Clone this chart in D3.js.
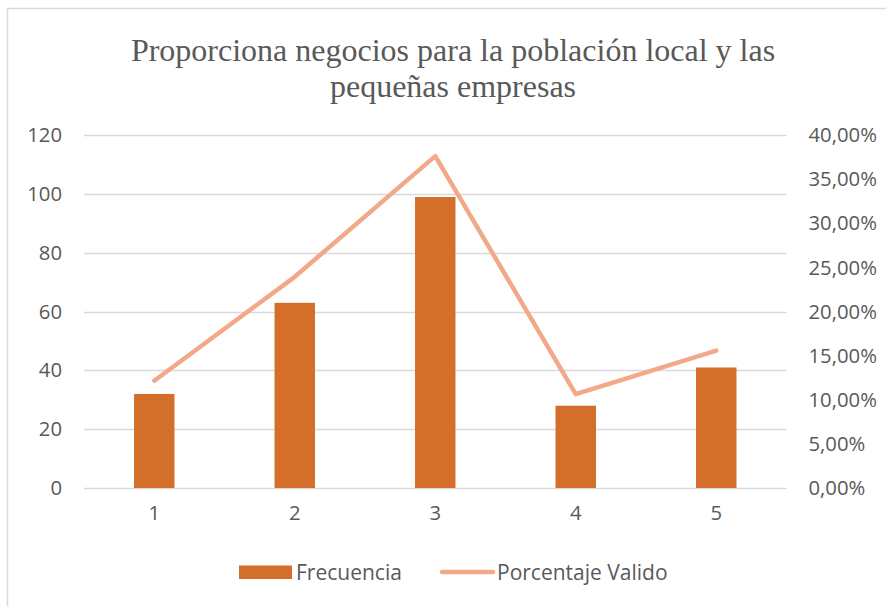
<!DOCTYPE html>
<html>
<head>
<meta charset="utf-8">
<script src="https://cdn.jsdelivr.net/npm/d3@7"></script>
<style>
  html, body { margin: 0; padding: 0; background: #fff; }
  svg { display: block; }
</style>
</head>
<body>
<svg id="chart" width="886" height="606"></svg>
<script>
const categories = ["1", "2", "3", "4", "5"];
const frecuencia = [32, 63, 99, 28, 41];
const porcentaje = [0.1217, 0.2395, 0.3764, 0.1065, 0.1559];
const leftTicks = [0, 20, 40, 60, 80, 100, 120];
const rightTicks = [0, 0.05, 0.10, 0.15, 0.20, 0.25, 0.30, 0.35, 0.40];
const titleLines = ["Proporciona negocios para la población local y las", "pequeñas empresas"];
const seriesNames = ["Frecuencia", "Porcentaje Valido"];

const W = 886, H = 606;
const plot = { left: 84, right: 786.5, top: 135.3, bottom: 488 };
const barColor = "#D36F2B";
const lineColor = "#F2A98A";
const textColor = "#595959";
const gridColor = "#D9D9D9";
const tickFont = "'Open Sans', sans-serif";
const tickSize = 20.3;
const legendSize = 21;

const svg = d3.select("#chart");

// chart frame
svg.append("rect")
  .attr("x", 7.5).attr("y", 8.5)
  .attr("width", W + 20).attr("height", H + 20)
  .attr("fill", "#fff").attr("stroke", gridColor).attr("stroke-width", 1.5);

// title
const title = svg.append("text")
  .attr("text-anchor", "middle")
  .attr("font-family", "'Liberation Serif', 'Times New Roman', serif")
  .attr("font-size", 32)
  .attr("fill", textColor);
titleLines.forEach((t, i) => {
  title.append("tspan").attr("x", 453).attr("y", 61 + i * 36).text(t);
});

// scales
const x = d3.scaleBand().domain(categories).range([plot.left, plot.right]).padding(0);
const yL = d3.scaleLinear().domain([0, 120]).range([plot.bottom, plot.top]);
const yR = d3.scaleLinear().domain([0, 0.40]).range([plot.bottom, plot.top]);

// gridlines
svg.append("g").selectAll("line").data(leftTicks).join("line")
  .attr("x1", plot.left).attr("x2", plot.right)
  .attr("y1", d => Math.round(yL(d)) + 0.5).attr("y2", d => Math.round(yL(d)) + 0.5)
  .attr("stroke", gridColor).attr("stroke-width", 1.3);

// left axis
const locale = d3.formatLocale({ decimal: ",", thousands: ".", grouping: [3], currency: ["", "€"] });
const pct = locale.format(".2%");

const gL = svg.append("g").attr("transform", `translate(${plot.left},0)`)
  .call(d3.axisLeft(yL).tickValues(leftTicks).tickSize(0).tickPadding(22));
gL.select(".domain").remove();
gL.selectAll("text").attr("font-family", tickFont).attr("font-size", tickSize).attr("fill", textColor);

// right axis
const gR = svg.append("g").attr("transform", `translate(${plot.right},0)`)
  .call(d3.axisRight(yR).tickValues(rightTicks).tickFormat(pct).tickSize(0).tickPadding(22));
gR.select(".domain").remove();
gR.selectAll("text").attr("font-family", tickFont).attr("font-size", tickSize).attr("fill", textColor);

// bottom axis
const gB = svg.append("g").attr("transform", `translate(0,${plot.bottom})`)
  .call(d3.axisBottom(x).tickSize(0).tickPadding(18));
gB.select(".domain").remove();
gB.selectAll("text").attr("font-family", tickFont).attr("font-size", tickSize).attr("fill", textColor);

// bars
const barW = x.bandwidth() * 0.288;
svg.append("g").selectAll("rect").data(frecuencia).join("rect")
  .attr("x", (d, i) => x(categories[i]) + x.bandwidth() / 2 - barW / 2)
  .attr("y", d => yL(d))
  .attr("width", barW)
  .attr("height", d => yL(0) - yL(d))
  .attr("fill", barColor);

// line
const line = d3.line()
  .x((d, i) => x(categories[i]) + x.bandwidth() / 2)
  .y(d => yR(d));
svg.append("path").datum(porcentaje)
  .attr("d", line)
  .attr("fill", "none")
  .attr("stroke", lineColor)
  .attr("stroke-width", 4.5)
  .attr("stroke-linecap", "round")
  .attr("stroke-linejoin", "round");

// legend
const lg = svg.append("g");
lg.append("rect").attr("x", 239).attr("y", 565.5).attr("width", 53).attr("height", 13.5).attr("fill", barColor);
lg.append("text").attr("x", 296).attr("y", 579.5)
  .attr("font-family", tickFont).attr("font-size", legendSize).attr("fill", textColor).text(seriesNames[0]);
lg.append("line").attr("x1", 442).attr("x2", 493).attr("y1", 572).attr("y2", 572)
  .attr("stroke", lineColor).attr("stroke-width", 4.5).attr("stroke-linecap", "round");
lg.append("text").attr("x", 497).attr("y", 579.5)
  .attr("font-family", tickFont).attr("font-size", legendSize).attr("fill", textColor).text(seriesNames[1]);
</script>
</body>
</html>
